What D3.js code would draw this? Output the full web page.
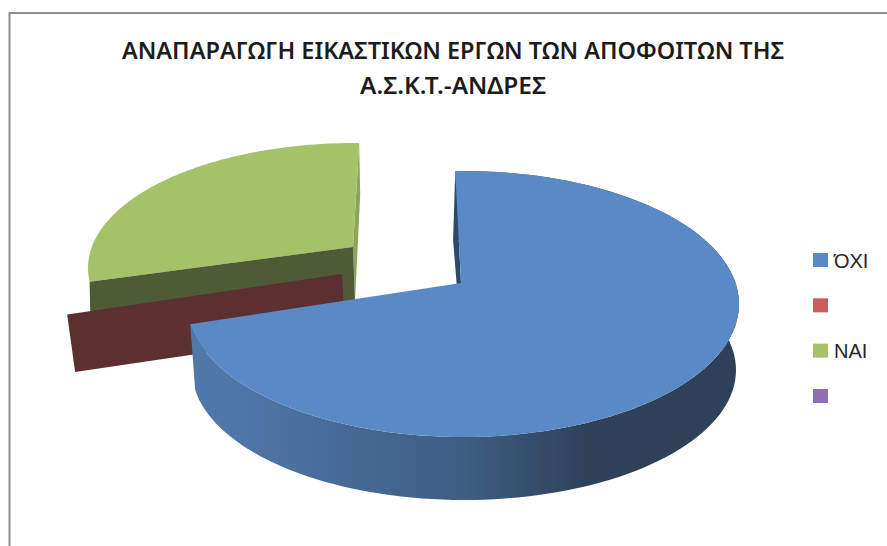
<!DOCTYPE html>
<html lang="el">
<head>
  <meta charset="utf-8" />
  <title>Pie chart</title>
  <script src="https://d3js.org/d3.v7.min.js"></script>
  <style>
    body { margin: 0; padding: 0; background: #ffffff; }
    svg { display: block; }
    text { font-family: "Noto Sans", "Open Sans", sans-serif; fill: #1c1c1c; }
    .title { font-size: 23.5px; font-weight: 600; text-anchor: middle; }
    .legend text { font-family: "Liberation Sans", Arial, sans-serif; font-size: 20px; fill: #262626; }
  </style>
</head>
<body>
<div id="chart"></div>
<script>
// data
const categories = ["ΌΧΙ", "", "ΝΑΙ", ""];
const values = [73, 0, 27, 0];
const colors = ["#5a8ac6", "#c85f5c", "#a6c268", "#8d70b0"];
const titleLines = ["ΑΝΑΠΑΡΑΓΩΓΗ ΕΙΚΑΣΤΙΚΩΝ ΕΡΓΩΝ ΤΩΝ ΑΠΟΦΟΙΤΩΝ ΤΗΣ", "Α.Σ.Κ.Τ.-ΑΝΔΡΕΣ"];

const width = 887, height = 546;
const deg = Math.PI / 180;

// where each exploded slice sits: top ellipse, bottom ellipse, apex top/bottom
const blueShape = {
  top: { cx: 463, cy: 304, rx: 276, ry: 133 },
  bot: { cx: 464, cy: 370, rx: 272, ry: 130 },
  apexTop: [461, 283], apexBot: [462, 350], rot: 0, botRot: -0.7
};
const redShape = {
  top: { cx: 336, cy: 295, rx: 272, ry: 128 },
  bot: { cx: 336, cy: 353, rx: 264, ry: 125 },
  apexTop: [342, 274], apexBot: [345, 332], rot: 0, botRot: 0
};
const greenShape = {
  top: { cx: 355, cy: 268, rx: 267, ry: 125 },
  bot: { cx: 356, cy: 320, rx: 267, ry: 125 },
  apexTop: [353, 247], apexBot: [355, 302], rot: 2.5, botRot: 0
};

const svg = d3.select("#chart").append("svg")
  .attr("width", width)
  .attr("height", height);

// frame, only top and left show in the original
svg.append("path")
  .attr("d", d3.line()([[width, 13], [9.5, 13], [9.5, height]]))
  .attr("fill", "none")
  .attr("stroke", "#8e8e8e")
  .attr("stroke-width", 2);

// shading of the outer wall
const grad = svg.append("defs").append("linearGradient")
  .attr("id", "wallGrad")
  .attr("gradientUnits", "userSpaceOnUse")
  .attr("x1", 195).attr("x2", 736).attr("y1", 0).attr("y2", 0);
[[0, "#5079aa"], [0.12, "#4d74a4"], [0.5, "#3d5d82"], [0.73, "#2f4059"], [1, "#2f4059"]]
  .forEach(s => grad.append("stop").attr("offset", s[0]).attr("stop-color", s[1]));

const pie = d3.pie().sort(null).startAngle(-1.6 * deg).endAngle(358.4 * deg);
const arcs = pie(values);

const line = d3.line();
const rim = (e, a) => [e.cx + e.rx * Math.sin(a), e.cy - e.ry * Math.cos(a)];
const rimPts = (e, a0, a1) => d3.range(0, 121).map(i => rim(e, a0 + (a1 - a0) * i / 120));

// ---- green slice (ΝΑΙ)
function drawGreen() {
  const s = greenShape, d = arcs[2];
  const a0 = d.startAngle + s.rot * deg, a1 = d.endAngle + s.rot * deg;
  // end wall, the thin sliver on the right
  svg.append("path")
    .attr("d", line([rim(s.top, a1), rim(s.bot, a1), s.apexBot, s.apexTop]) + "Z")
    .attr("fill", "#8ca45a");
  // top face
  svg.append("path")
    .attr("d", line([s.apexTop, ...rimPts(s.top, a0, a1)]) + "Z")
    .attr("fill", colors[2]);
  // cut face towards the viewer
  svg.append("path")
    .attr("d", line([s.apexTop, rim(s.top, a0), rim(s.bot, a0), s.apexBot]) + "Z")
    .attr("fill", "#4f5b36");
}

// ---- red slice has zero size, only its cut face shows
function drawRed() {
  const s = redShape, a = arcs[1].startAngle;
  svg.append("path")
    .attr("d", line([s.apexTop, rim(s.top, a), rim(s.bot, a), s.apexBot]) + "Z")
    .attr("fill", "#5c2f30");
}

// ---- blue slice (ΌΧΙ)
function drawBlue() {
  const s = blueShape, d = arcs[0];
  const a0 = d.startAngle, a1 = d.endAngle;
  svg.append("path")
    .attr("d", line([...rimPts(s.top, a0, a1), ...rimPts(s.bot, a1, a0)]) + "Z")
    .attr("fill", "url(#wallGrad)");
  svg.append("path")
    .attr("d", line([s.apexTop, rim(s.top, a0), rim(s.bot, a0 + s.botRot * deg), s.apexBot]) + "Z")
    .attr("fill", "#2d4a6e");
  svg.append("path")
    .attr("d", line([s.apexTop, ...rimPts(s.top, a0, a1)]) + "Z")
    .attr("fill", colors[0]);
}

drawGreen();
drawRed();
drawBlue();

// title
const titleX = [453, 453], titleY = [59, 94], titleLen = [662, 186];
svg.selectAll(".title").data(titleLines).enter().append("text")
  .attr("class", "title")
  .attr("x", (d, i) => titleX[i])
  .attr("y", (d, i) => titleY[i])
  .attr("textLength", (d, i) => titleLen[i])
  .attr("lengthAdjust", "spacingAndGlyphs")
  .text(d => d);

// legend
const legendY = d3.scalePoint().domain(d3.range(categories.length)).range([260, 396]);
const legend = svg.append("g").attr("class", "legend");
legend.selectAll("rect").data(categories).enter().append("rect")
  .attr("x", 813)
  .attr("y", (d, i) => legendY(i) - 7)
  .attr("width", 15)
  .attr("height", 14)
  .attr("fill", (d, i) => colors[i]);
legend.selectAll("text").data(categories).enter().append("text")
  .attr("x", 834)
  .attr("y", (d, i) => legendY(i) + 7.5)
  .text(d => d);
</script>
</body>
</html>
